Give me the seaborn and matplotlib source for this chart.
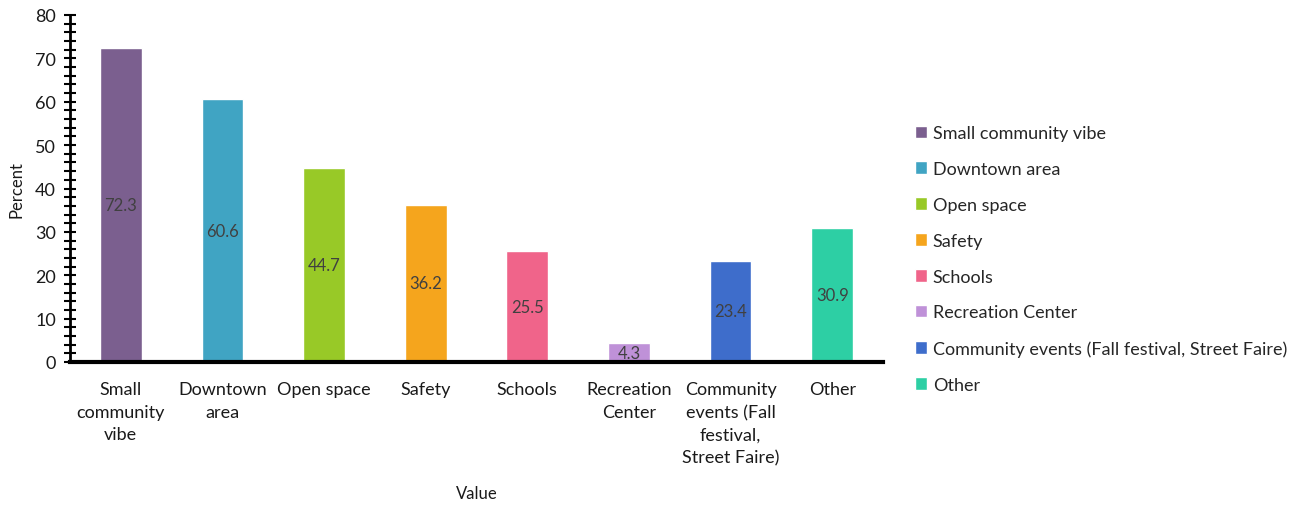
import matplotlib
matplotlib.use("Agg")
import matplotlib.pyplot as plt
from matplotlib.ticker import MultipleLocator
import seaborn as sns
import pandas as pd

categories = [
    "Small community vibe",
    "Downtown area",
    "Open space",
    "Safety",
    "Schools",
    "Recreation Center",
    "Community events (Fall festival, Street Faire)",
    "Other",
]
tick_labels = [
    "Small\ncommunity\nvibe",
    "Downtown\narea",
    "Open space",
    "Safety",
    "Schools",
    "Recreation\nCenter",
    "Community\nevents (Fall\nfestival,\nStreet Faire)",
    "Other",
]
percent = [72.3, 60.6, 44.7, 36.2, 25.5, 4.3, 23.4, 30.9]
colors = ["#7B5F8F", "#40A4C3", "#98C927", "#F5A51D", "#F0648A",
          "#BF91D8", "#3E6DCB", "#2DCFA4"]

sns.set_style("white")
plt.rcParams["font.family"] = ["Lato", "DejaVu Sans"]

df = pd.DataFrame({"Category": categories, "Percent": percent})

fig = plt.figure(figsize=(13.05, 5.06), dpi=100)
ax = fig.add_axes([70 / 1305, 1 - 363 / 506, 813 / 1305, 347 / 506])

sns.barplot(data=df, x="Category", y="Percent", hue="Category",
            palette=colors, order=categories, hue_order=categories,
            dodge=False, width=0.41, saturation=1, ax=ax, legend=True)

for cont, v in zip(ax.containers, percent):
    for bar in cont:
        ax.text(bar.get_x() + bar.get_width() / 2, v / 2, f"{v:.1f}",
                ha="center", va="center", fontsize=12, color="#404040")

ax.set_xlim(-0.5, len(categories) - 0.5)
ax.set_ylim(0, 80)
ax.yaxis.set_major_locator(MultipleLocator(10))
ax.yaxis.set_minor_locator(MultipleLocator(2))
ax.set_xticks(range(len(categories)))
ax.set_xticklabels(tick_labels, fontsize=13, color="#1a1a1a", linespacing=1.5)
ax.tick_params(axis="x", length=0, pad=14)
ax.tick_params(axis="y", which="both", direction="inout", length=8, width=1.5,
               color="black", left=True, labelsize=13, labelcolor="#1a1a1a", pad=6)

for side in ["top", "right"]:
    ax.spines[side].set_visible(False)
ax.spines["left"].set_linewidth(2)
ax.spines["bottom"].set_linewidth(3)
ax.spines["left"].set_color("black")
ax.spines["bottom"].set_color("black")

ax.set_ylabel("Percent", fontsize=12, color="#1a1a1a", labelpad=8)
ax.set_xlabel("Value", fontsize=12, color="#1a1a1a", labelpad=6)
ax.xaxis.set_label_coords(0.5, -0.355)

sns.move_legend(ax, "center left", bbox_to_anchor=(1.03, 0.297), frameon=False,
                title=None, fontsize=13, handlelength=0.7, handleheight=0.7,
                handletextpad=0.3, labelspacing=1.1, borderaxespad=0)

fig.savefig("out.png", dpi=100)
